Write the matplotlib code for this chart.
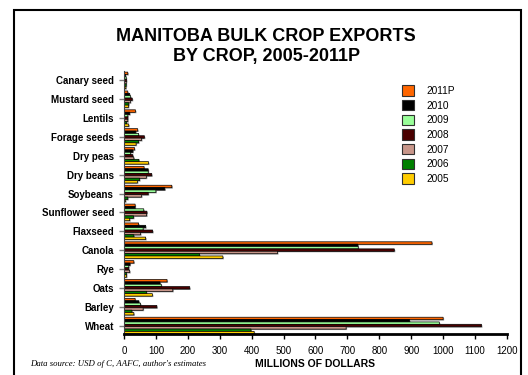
import matplotlib
matplotlib.use("Agg")
import matplotlib.pyplot as plt
from matplotlib.patches import Patch, Rectangle
from matplotlib.transforms import offset_copy
import numpy as np

plt.rcParams['font.family'] = ['Liberation Sans', 'DejaVu Sans']

# crops listed bottom to top
crops = ["Wheat", "Barley", "Oats", "Rye", "Canola", "Flaxseed", "Sunflower seed",
         "Soybeans", "Dry beans", "Dry peas", "Forage seeds", "Lentils",
         "Mustard seed", "Canary seed"]

years = ["2011P", "2010", "2009", "2008", "2007", "2006", "2005"]

# millions of dollars, same crop order as above
exp_2011p = [1000, 35, 135, 31, 965, 46, 35, 150, 63, 33, 43, 36, 12, 12]
exp_2010 = [895, 47, 113, 19, 733, 68, 35, 128, 76, 28, 37, 18, 18, 5]
exp_2009 = [988, 52, 117, 15, 734, 60, 62, 100, 76, 21, 46, 12, 21, 7]
exp_2008 = [1120, 103, 206, 15, 847, 90, 72, 76, 87, 28, 64, 12, 26, 8]
exp_2007 = [696, 60, 153, 18, 481, 52, 71, 55, 70, 31, 55, 12, 20, 7]
exp_2006 = [398, 25, 71, 8, 237, 31, 30, 12, 49, 47, 46, 8, 15, 7]
exp_2005 = [408, 31, 89, 8, 310, 68, 18, 5, 42, 77, 38, 15, 14, 6]

series = [exp_2011p, exp_2010, exp_2009, exp_2008, exp_2007, exp_2006, exp_2005]
colors = ["#FF6600", "#000000", "#99FF99", "#4A0000", "#C8968A", "#008000", "#FFCC00"]

fig = plt.figure(figsize=(5.28, 3.75), dpi=100)
ax = fig.add_axes([0.2348, 0.1093, 0.7254, 0.7014])

y = np.arange(len(crops))
h = 0.125
shade = offset_copy(ax.transData, fig=fig, x=1, y=-1, units="dots")

# gray drop shadows go underneath every bar
for j, vals in enumerate(series):
    ax.barh(y + (3 - j) * h, vals, height=h, color="#9a9a9a", linewidth=0,
            transform=shade, zorder=1, snap=False)

for j, (vals, col) in enumerate(zip(series, colors)):
    ax.barh(y + (3 - j) * h, vals, height=h * 1.05, color=col,
            edgecolor="black", linewidth=0.5, label=years[j], zorder=2, snap=False)

ax.set_xlim(0, 1200)
ax.set_ylim(-0.45, 13.5)
ax.set_xticks(np.arange(0, 1201, 100))
ax.set_yticks(y)
ax.set_yticklabels(crops, fontsize=7, fontweight="bold")
ax.tick_params(axis="x", labelsize=7, length=3.6, width=1, direction="out", pad=5)
ax.tick_params(axis="y", length=3.6, width=1, color="#808080", pad=3.6)

for s in ["top", "right"]:
    ax.spines[s].set_visible(False)
ax.spines["left"].set_color("#404040")
ax.spines["left"].set_linewidth(0.8)
ax.spines["bottom"].set_linewidth(2)
ax.spines["bottom"].set_zorder(3)

ax.set_xlabel("MILLIONS OF DOLLARS", fontsize=7.5, fontweight="bold", labelpad=2)

fig.text(0.504, 0.875, "MANITOBA BULK CROP EXPORTS\nBY CROP, 2005-2011P",
         ha="center", va="center", fontsize=13, fontweight="bold", linespacing=1.25)

fig.text(0.057, 0.03, "Data source: USD of C, AAFC, author's estimates",
         fontsize=6.3, style="italic", family=["Liberation Serif", "DejaVu Serif"],
         ha="left", va="center")

handles = [Patch(facecolor=c, edgecolor="#303030", linewidth=0.8) for c in colors]
fig.legend(handles, years, loc="upper left", bbox_to_anchor=(0.752, 0.786),
           frameon=False, fontsize=7.3, borderpad=0, handlelength=1.2,
           handleheight=1.2, labelspacing=0.4, handletextpad=1.2)

# outer border of the page
fig.patches.append(Rectangle((14 / 528, -0.1), (521 - 14) / 528, 1.1 - 10 / 375,
                             transform=fig.transFigure, fill=False,
                             edgecolor="black", linewidth=1.5))

fig.savefig("out.png", dpi=100)
